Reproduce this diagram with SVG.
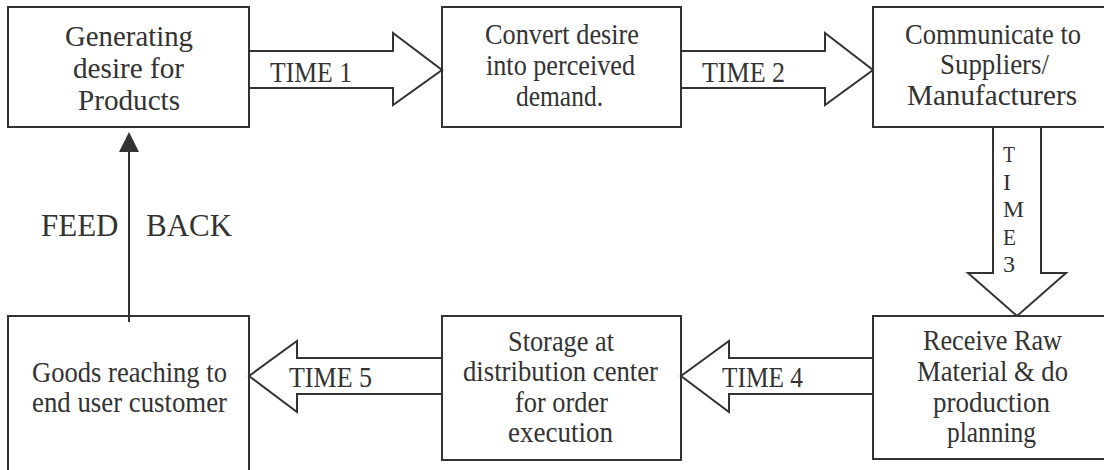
<svg xmlns="http://www.w3.org/2000/svg" width="1104" height="470" viewBox="0 0 1104 470">
<style>
.box{fill:#fff;stroke:#333;stroke-width:2}
.arr{fill:#fff;stroke:#333;stroke-width:2;stroke-linejoin:miter}
.t{font-family:"Liberation Serif","Times New Roman",serif;font-size:29.5px;fill:#333}
.v{font-family:"Liberation Serif","Times New Roman",serif;font-size:23px;fill:#333}
.fb{font-family:"Liberation Serif","Times New Roman",serif;font-size:31px;fill:#333}
</style>
<rect width="1104" height="470" fill="#fff"/>
<g id="n1">
<rect class="box" x="8" y="7" width="241" height="120"/>
<text class="t" x="65" y="46" textLength="128" lengthAdjust="spacingAndGlyphs">Generating</text>
<text class="t" x="73" y="78" textLength="111" lengthAdjust="spacingAndGlyphs">desire for</text>
<text class="t" x="78" y="110" textLength="102" lengthAdjust="spacingAndGlyphs">Products</text>
</g>
<g id="n2">
<rect class="box" x="442" y="7" width="239" height="120"/>
<text class="t" x="485" y="44" textLength="154" lengthAdjust="spacingAndGlyphs">Convert desire</text>
<text class="t" x="486" y="75" textLength="149" lengthAdjust="spacingAndGlyphs">into perceived</text>
<text class="t" x="516" y="106" textLength="87" lengthAdjust="spacingAndGlyphs">demand.</text>
</g>
<g id="n3">
<rect class="box" x="873" y="7" width="240" height="120"/>
<text class="t" x="905" y="44" textLength="176" lengthAdjust="spacingAndGlyphs">Communicate to</text>
<text class="t" x="940" y="74" textLength="109" lengthAdjust="spacingAndGlyphs">Suppliers/</text>
<text class="t" x="907" y="105" textLength="170" lengthAdjust="spacingAndGlyphs">Manufacturers</text>
</g>
<g id="n6">
<rect class="box" x="873" y="316" width="240" height="143"/>
<text class="t" x="923" y="350" textLength="139" lengthAdjust="spacingAndGlyphs">Receive Raw</text>
<text class="t" x="917" y="381" textLength="151" lengthAdjust="spacingAndGlyphs">Material &amp; do</text>
<text class="t" x="933" y="412" textLength="117" lengthAdjust="spacingAndGlyphs">production</text>
<text class="t" x="947" y="442" textLength="89" lengthAdjust="spacingAndGlyphs">planning</text>
</g>
<g id="n5">
<rect class="box" x="442" y="316" width="239" height="144"/>
<text class="t" x="508" y="351" textLength="106" lengthAdjust="spacingAndGlyphs">Storage at</text>
<text class="t" x="463" y="381" textLength="195" lengthAdjust="spacingAndGlyphs">distribution center</text>
<text class="t" x="515" y="412" textLength="93" lengthAdjust="spacingAndGlyphs">for order</text>
<text class="t" x="508" y="442" textLength="105" lengthAdjust="spacingAndGlyphs">execution</text>
</g>
<g id="n4">
<rect class="box" x="8" y="316" width="241" height="170"/>
<text class="t" x="32" y="382" textLength="195" lengthAdjust="spacingAndGlyphs">Goods reaching to</text>
<text class="t" x="32" y="412" textLength="195" lengthAdjust="spacingAndGlyphs">end user customer</text>
</g>
<g id="connectors">
<polygon class="arr" points="249,51 393,51 393,33 442,70 393,105 393,88 249,88"/>
<text class="t" x="270" y="82" textLength="82" lengthAdjust="spacingAndGlyphs">TIME 1</text>
<polygon class="arr" points="681,51 825,51 825,33 873,70 825,105 825,88 681,88"/>
<text class="t" x="702" y="82" textLength="83" lengthAdjust="spacingAndGlyphs">TIME 2</text>
<polygon class="arr" points="993,127 993,273 968,273 1017,316 1066,273 1041,273 1041,127"/>
<text class="v" x="1003" y="162" textLength="12" lengthAdjust="spacingAndGlyphs">T</text>
<text class="v" x="1003" y="189.5" textLength="8" lengthAdjust="spacingAndGlyphs">I</text>
<text class="v" x="1003" y="217" textLength="21" lengthAdjust="spacingAndGlyphs">M</text>
<text class="v" x="1003" y="244.5" textLength="13" lengthAdjust="spacingAndGlyphs">E</text>
<text class="v" x="1003" y="272" textLength="12" lengthAdjust="spacingAndGlyphs">3</text>
<polygon class="arr" points="873,358 729,358 729,341 681,376 729,412 729,394 873,394"/>
<text class="t" x="722" y="387" textLength="81" lengthAdjust="spacingAndGlyphs">TIME 4</text>
<polygon class="arr" points="442,358 297,358 297,341 249,376 297,412 297,394 442,394"/>
<text class="t" x="289" y="387" textLength="83" lengthAdjust="spacingAndGlyphs">TIME 5</text>
<line x1="129" y1="322" x2="129" y2="150" stroke="#333" stroke-width="2"/>
<polygon points="129,132 139,152 119,152" fill="#333"/>
<text class="fb" x="41" y="236">FEED</text>
<text class="fb" x="146" y="236">BACK</text>
</g>
</svg>
